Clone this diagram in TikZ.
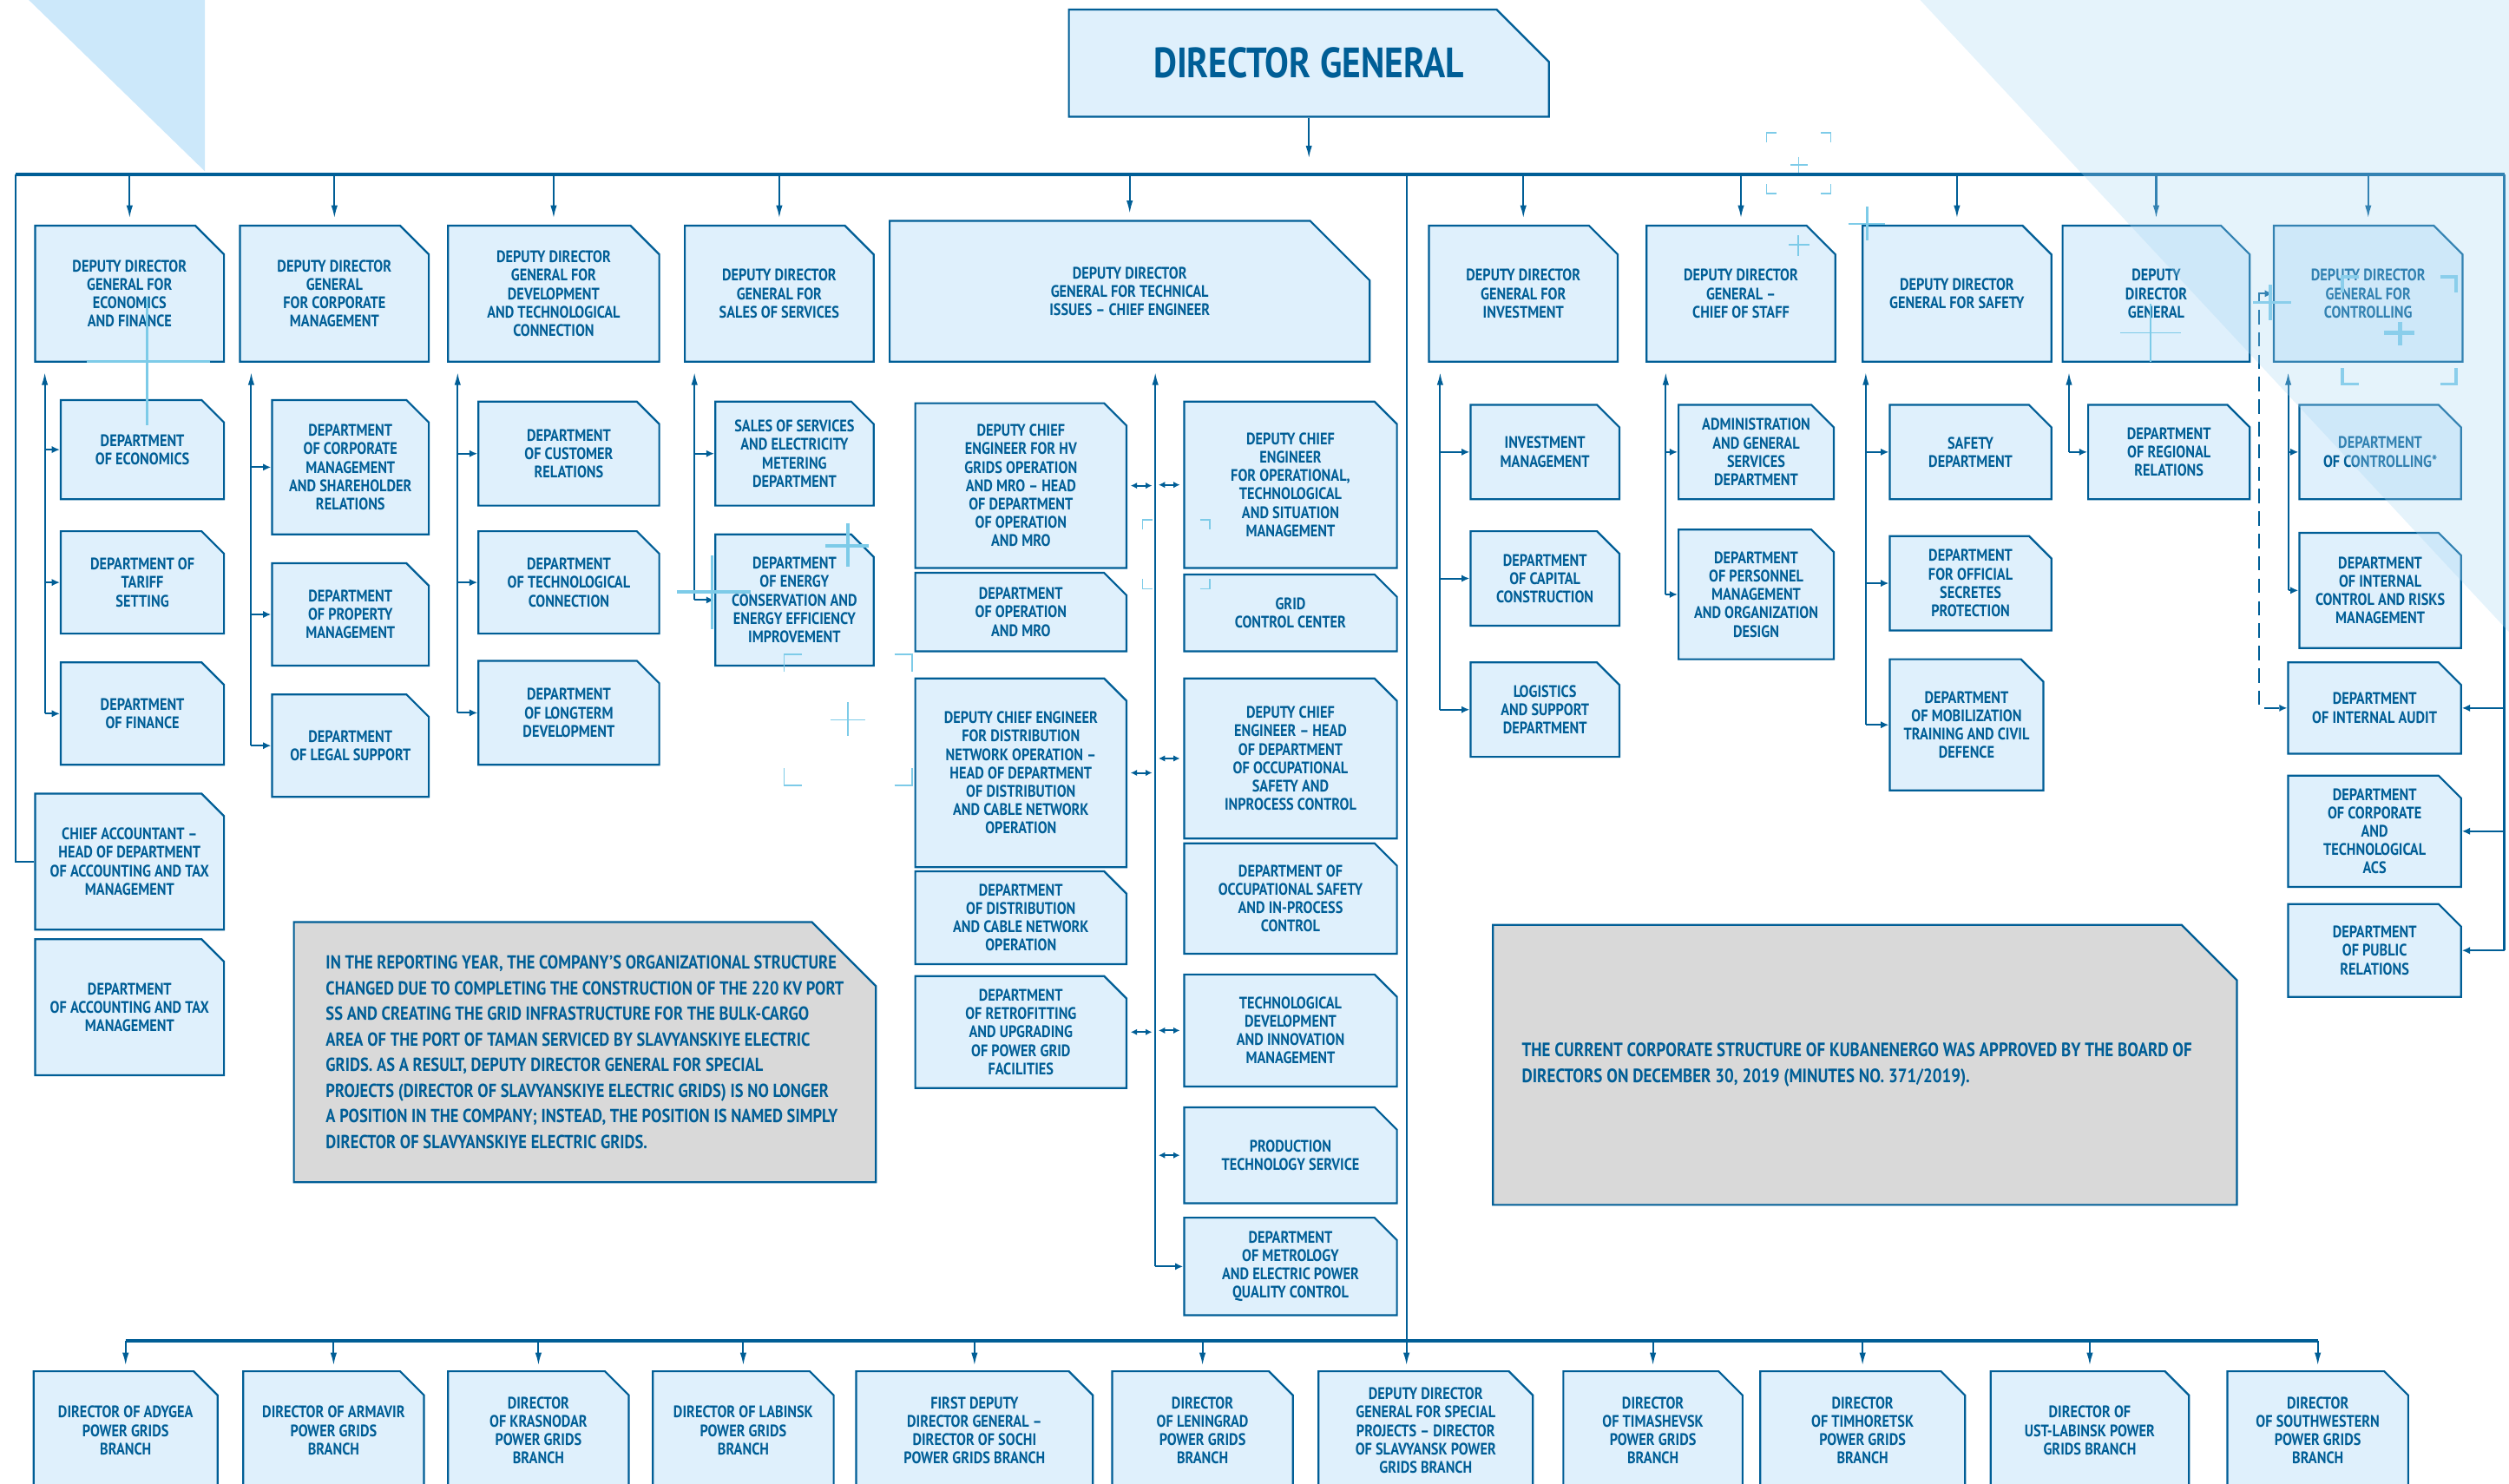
\documentclass[tikz,border=0pt]{standalone}
\usepackage{fontspec}
\newfontfamily\kbfont{PT Sans}[FakeStretch=0.85]
\usetikzlibrary{arrows.meta,
                positioning,
                shapes.misc}

\definecolor{kbblue}{RGB}{0,94,150}
\definecolor{kbfill}{RGB}{223,240,252}
\definecolor{kbgrey}{RGB}{217,217,217}
\definecolor{kbsky}{RGB}{204,232,250}
\definecolor{kbhaze}{RGB}{170,215,243}
\definecolor{kbdeco}{RGB}{125,203,232}

% corner marks of a frame: x1,y1,x2,y2,arm
\newcommand{\kbframe}[5]{%
  \draw (#1,#2+#5) -- (#1,#2) -- (#1+#5,#2);
  \draw (#3-#5,#2) -- (#3,#2) -- (#3,#2+#5);
  \draw (#1,#4-#5) -- (#1,#4) -- (#1+#5,#4);
  \draw (#3-#5,#4) -- (#3,#4) -- (#3,#4-#5);}

\begin{document}
\begin{tikzpicture}[x=1pt, y=-1pt,
    unit/.style = {chamfered rectangle, chamfered rectangle corners=north east,
                   chamfered rectangle xsep=7pt, chamfered rectangle ysep=7pt,
                   draw=kbblue, fill=kbfill, line width=1.2pt, text=kbblue,
                   align=center, inner sep=1pt,
                   font=\kbfont\bfseries\fontsize{10.4}{11.5}\selectfont},
    chamf/.style = {chamfered rectangle xsep=#1, chamfered rectangle ysep=#1},
    wh/.style 2 args = {minimum width=#1, minimum height=#2},
    wire/.style = {draw=kbblue, line width=1.1pt},
    bus/.style  = {draw=kbblue, line width=2.6pt},
    feed/.style = {wire, -{Latex[length=5pt, width=4.5pt]}},
    drop/.style = {wire, -{Latex[length=8pt, width=4pt]}, shorten >=4pt},
    rise/.style = {wire, -{Latex[length=8pt, width=4pt]}, shorten >=6pt},
    twin/.style = {wire, {Latex[length=4pt, width=4pt]}-{Latex[length=4pt, width=4pt]},
                   shorten <=2pt, shorten >=2pt}]

\useasboundingbox (0,0) rectangle (1568,927);
\clip (0,0) rectangle (1568,927);

% background corner
\fill[kbsky] (18,0) -- (128,0) -- (128,107) -- cycle;

\node[unit, chamf=22pt, wh={300pt}{67pt},
      font=\kbfont\bfseries\fontsize{26.5}{28}\selectfont] (dg) at (818,39.5) {DIRECTOR GENERAL};

% deputies
\begin{scope}[deputy/.style = {unit, chamf=9pt, minimum height=85pt}]
    \node[deputy, minimum width=118pt] (dEco)   at (81,183.5)    {DEPUTY DIRECTOR\\GENERAL FOR\\ECONOMICS\\AND FINANCE};
    \node[deputy, minimum width=118pt] (dCorp)  at (209,183.5)   {DEPUTY DIRECTOR\\GENERAL\\FOR CORPORATE\\MANAGEMENT};
    \node[deputy, minimum width=132pt] (dDev)   at (346,183.5)   {DEPUTY DIRECTOR\\GENERAL FOR\\DEVELOPMENT\\AND TECHNOLOGICAL\\CONNECTION};
    \node[deputy, minimum width=118pt] (dSales) at (487,183.5)   {DEPUTY DIRECTOR\\GENERAL FOR\\SALES OF SERVICES};
    \node[unit, chamf=21pt, wh={300pt}{88pt}] (dTech) at (706,182) {DEPUTY DIRECTOR\\GENERAL FOR TECHNICAL\\ISSUES – CHIEF ENGINEER};
    \node[deputy, minimum width=118pt] (dInv)   at (952,183.5)   {DEPUTY DIRECTOR\\GENERAL FOR\\INVESTMENT};
    \node[deputy, minimum width=118pt] (dStaff) at (1088,183.5)  {DEPUTY DIRECTOR\\GENERAL –\\CHIEF OF STAFF};
    \node[deputy, minimum width=118pt] (dSafe)  at (1223,183.5)  {DEPUTY DIRECTOR\\GENERAL FOR SAFETY};
    \node[deputy, minimum width=117pt] (dDep)   at (1347.5,183.5) {DEPUTY\\DIRECTOR\\GENERAL};
    \node[deputy, minimum width=118pt] (dCtrl)  at (1480,183.5)  {DEPUTY DIRECTOR\\GENERAL FOR\\CONTROLLING};
\end{scope}

% departments
\node[unit, wh={102pt}{62pt}] (eco)      at (89,281)    {DEPARTMENT\\OF ECONOMICS};
\node[unit, wh={102pt}{64pt}] (tariff)   at (89,364)    {DEPARTMENT OF\\TARIFF\\SETTING};
\node[unit, wh={102pt}{64pt}] (fin)      at (89,446)    {DEPARTMENT\\OF FINANCE};
\node[unit, wh={118pt}{85pt}] (chiefAcc) at (81,538.5)  {CHIEF ACCOUNTANT –\\HEAD OF DEPARTMENT\\OF ACCOUNTING AND TAX\\MANAGEMENT};
\node[unit, wh={118pt}{85pt}] (accTax)   at (81,629.5)  {DEPARTMENT\\OF ACCOUNTING AND TAX\\MANAGEMENT};

\node[unit, wh={98pt}{84pt}] (corpMgmt) at (219,292) {DEPARTMENT\\OF CORPORATE\\MANAGEMENT\\AND SHAREHOLDER\\RELATIONS};
\node[unit, wh={98pt}{64pt}] (property) at (219,384) {DEPARTMENT\\OF PROPERTY\\MANAGEMENT};
\node[unit, wh={98pt}{64pt}] (legal)    at (219,466) {DEPARTMENT\\OF LEGAL SUPPORT};

\node[unit, wh={113pt}{65pt}] (customer) at (355.5,283.5) {DEPARTMENT\\OF CUSTOMER\\RELATIONS};
\node[unit, wh={113pt}{64pt}] (techConn) at (355.5,364)   {DEPARTMENT\\OF TECHNOLOGICAL\\CONNECTION};
\node[unit, wh={113pt}{65pt}] (longterm) at (355.5,445.5) {DEPARTMENT\\OF LONGTERM\\DEVELOPMENT};

\node[unit, wh={99pt}{65pt}] (metering) at (496.5,283.5) {SALES OF SERVICES\\AND ELECTRICITY\\METERING\\DEPARTMENT};
\node[unit, wh={99pt}{82pt}] (energy)   at (496.5,375)   {DEPARTMENT\\OF ENERGY\\CONSERVATION AND\\ENERGY EFFICIENCY\\IMPROVEMENT};

% chief engineer
\node[unit, wh={132pt}{103pt}] (hvGrid)    at (638,303.5) {DEPUTY CHIEF\\ENGINEER FOR HV\\GRIDS OPERATION\\AND MRO – HEAD\\OF DEPARTMENT\\OF OPERATION\\AND MRO};
\node[unit, wh={132pt}{49pt}]  (opMro)     at (638,382.5) {DEPARTMENT\\OF OPERATION\\AND MRO};
\node[unit, wh={132pt}{118pt}] (distNet)   at (638,483)   {DEPUTY CHIEF ENGINEER\\FOR DISTRIBUTION\\NETWORK OPERATION –\\HEAD OF DEPARTMENT\\OF DISTRIBUTION\\AND CABLE NETWORK\\OPERATION};
\node[unit, wh={132pt}{49pt}]  (distCable) at (638,573.5) {DEPARTMENT\\OF DISTRIBUTION\\AND CABLE NETWORK\\OPERATION};
\node[unit, wh={132pt}{70pt}]  (retrofit)  at (638,645)   {DEPARTMENT\\OF RETROFITTING\\AND UPGRADING\\OF POWER GRID\\FACILITIES};

\node[unit, wh={133pt}{104pt}] (opSit)     at (806.5,303)   {DEPUTY CHIEF\\ENGINEER\\FOR OPERATIONAL,\\TECHNOLOGICAL\\AND SITUATION\\MANAGEMENT};
\node[unit, wh={133pt}{48pt}]  (gridCC)    at (806.5,383)   {GRID\\CONTROL CENTER};
\node[unit, wh={133pt}{100pt}] (occHead)   at (806.5,474)   {DEPUTY CHIEF\\ENGINEER – HEAD\\OF DEPARTMENT\\OF OCCUPATIONAL\\SAFETY AND\\INPROCESS CONTROL};
\node[unit, wh={133pt}{69pt}]  (occDept)   at (806.5,561.5) {DEPARTMENT OF\\OCCUPATIONAL SAFETY\\AND IN-PROCESS\\CONTROL};
\node[unit, wh={133pt}{70pt}]  (techDevt)  at (806.5,644)   {TECHNOLOGICAL\\DEVELOPMENT\\AND INNOVATION\\MANAGEMENT};
\node[unit, wh={133pt}{60pt}]  (prodTech)  at (806.5,722)   {PRODUCTION\\TECHNOLOGY SERVICE};
\node[unit, wh={133pt}{61pt}]  (metrology) at (806.5,791.5) {DEPARTMENT\\OF METROLOGY\\AND ELECTRIC POWER\\QUALITY CONTROL};

\node[unit, wh={93pt}{59pt}] (invMgmt)   at (965.5,282.5) {INVESTMENT\\MANAGEMENT};
\node[unit, wh={93pt}{59pt}] (capCon)    at (965.5,361.5) {DEPARTMENT\\OF CAPITAL\\CONSTRUCTION};
\node[unit, wh={93pt}{59pt}] (logistics) at (965.5,443.5) {LOGISTICS\\AND SUPPORT\\DEPARTMENT};

\node[unit, wh={97pt}{59pt}] (admin)     at (1097.5,282.5) {ADMINISTRATION\\AND GENERAL\\SERVICES\\DEPARTMENT};
\node[unit, wh={97pt}{81pt}] (personnel) at (1097.5,371.5) {DEPARTMENT\\OF PERSONNEL\\MANAGEMENT\\AND ORGANIZATION\\DESIGN};

\node[unit, wh={101pt}{59pt}] (safetyDept) at (1231.5,282.5) {SAFETY\\DEPARTMENT};
\node[unit, wh={101pt}{59pt}] (secrets)    at (1231.5,364.5) {DEPARTMENT\\FOR OFFICIAL\\SECRETES\\PROTECTION};
\node[unit, wh={96pt}{82pt}]  (mobil)      at (1229,453)     {DEPARTMENT\\OF MOBILIZATION\\TRAINING AND CIVIL\\DEFENCE};

\node[unit, wh={101pt}{59pt}] (regional) at (1355.5,282.5) {DEPARTMENT\\OF REGIONAL\\RELATIONS};

\node[unit, wh={101pt}{59pt}] (ctrlDept) at (1487.5,282.5) {DEPARTMENT\\OF CONTROLLING*};
\node[unit, wh={101pt}{72pt}] (intCtrl)  at (1487.5,369)   {DEPARTMENT\\OF INTERNAL\\CONTROL AND RISKS\\MANAGEMENT};
\node[unit, wh={108pt}{57pt}] (audit)    at (1484,442.5)   {DEPARTMENT\\OF INTERNAL AUDIT};
\node[unit, wh={108pt}{55pt}] (acs)      at (1484,519.5)   {DEPARTMENT\\OF CORPORATE\\AND\\TECHNOLOGICAL\\ACS};
\node[unit, wh={108pt}{58pt}] (pr)       at (1484,594)     {DEPARTMENT\\OF PUBLIC\\RELATIONS};

% notes
\begin{scope}[remark/.style = {unit, chamf=20pt, fill=kbgrey, align=left, inner xsep=0pt,
                               font=\kbfont\bfseries\fontsize{11.8}{16}\selectfont}]
    \node[remark, wh={363pt}{159pt}] (noteL) at (365.5,657.5)
        {IN THE REPORTING YEAR, THE COMPANY’S ORGANIZATIONAL STRUCTURE\\
         CHANGED DUE TO COMPLETING THE CONSTRUCTION OF THE 220 KV PORT\\
         SS AND CREATING THE GRID INFRASTRUCTURE FOR THE BULK-CARGO\\
         AREA OF THE PORT OF TAMAN SERVICED BY SLAVYANSKIYE ELECTRIC\\
         GRIDS. AS A RESULT, DEPUTY DIRECTOR GENERAL FOR SPECIAL\\
         PROJECTS (DIRECTOR OF SLAVYANSKIYE ELECTRIC GRIDS) IS NO LONGER\\
         A POSITION IN THE COMPANY; INSTEAD, THE POSITION IS NAMED SIMPLY\\
         DIRECTOR OF SLAVYANSKIYE ELECTRIC GRIDS.};
    \node[remark, wh={465pt}{175pt}, font=\kbfont\bfseries\fontsize{12.1}{16}\selectfont] (noteR) at (1165.5,665.5)
        {\hspace*{-10pt}THE CURRENT CORPORATE STRUCTURE OF KUBANENERGO WAS APPROVED BY THE BOARD OF\\
         \hspace*{-10pt}DIRECTORS ON DECEMBER 30, 2019 (MINUTES NO. 371/2019).};
\end{scope}

% branches
\begin{scope}[branch/.style = {unit, chamfered rectangle ysep=8pt, minimum height=74pt}]
    \node[branch, minimum width=115pt] (bAdygea)     at (78.5,894)  {DIRECTOR OF ADYGEA\\POWER GRIDS\\BRANCH};
    \node[branch, minimum width=113pt] (bArmavir)    at (208.5,894) {DIRECTOR OF ARMAVIR\\POWER GRIDS\\BRANCH};
    \node[branch, minimum width=113pt] (bKrasnodar)  at (336.5,894) {DIRECTOR\\OF KRASNODAR\\POWER GRIDS\\BRANCH};
    \node[branch, minimum width=113pt] (bLabinsk)    at (464.5,894) {DIRECTOR OF LABINSK\\POWER GRIDS\\BRANCH};
    \node[branch, minimum width=148pt] (bSochi)      at (609,894)   {FIRST DEPUTY\\DIRECTOR GENERAL –\\DIRECTOR OF SOCHI\\POWER GRIDS BRANCH};
    \node[branch, minimum width=113pt] (bLeningrad)  at (751.5,894) {DIRECTOR\\OF LENINGRAD\\POWER GRIDS\\BRANCH};
    \node[branch, minimum width=134pt] (bSlavyansk)  at (891,894)   {DEPUTY DIRECTOR\\GENERAL FOR SPECIAL\\PROJECTS – DIRECTOR\\OF SLAVYANSK POWER\\GRIDS BRANCH};
    \node[branch, minimum width=112pt] (bTimashevsk) at (1033,894)  {DIRECTOR\\OF TIMASHEVSK\\POWER GRIDS\\BRANCH};
    \node[branch, minimum width=128pt] (bTimhoretsk) at (1164,894)  {DIRECTOR\\OF TIMHORETSK\\POWER GRIDS\\BRANCH};
    \node[branch, minimum width=124pt] (bUstLab)     at (1306,894)  {DIRECTOR OF\\UST-LABINSK POWER\\GRIDS BRANCH};
    \node[branch, minimum width=113pt] (bSouthwest)  at (1448.5,894) {DIRECTOR\\OF SOUTHWESTERN\\POWER GRIDS\\BRANCH};
\end{scope}

% buses
\coordinate (topL) at (10,109);
\coordinate (topR) at (1565,109);
\coordinate (mid)  at (879,109);
\coordinate (botY) at (879,838);

\draw[wire] (topL) |- (chiefAcc.west);
\draw[wire] (topR) -- (topR |- pr.east);
\draw[wire] (mid) -- (botY);
\draw[bus] (topL) -- (topR);
\draw[bus] (bAdygea.north |- botY) -- (bSouthwest.north |- botY);

\draw[drop, shorten >=10pt] (dg.south) -- (dg.south |- topL);
\foreach \d in {dEco,dCorp,dDev,dSales,dTech,dInv,dStaff,dSafe,dDep,dCtrl}
    \draw[drop] (\d.north |- topL) -- (\d.north);
\foreach \b in {bAdygea,bArmavir,bKrasnodar,bLabinsk,bSochi,bLeningrad,bTimashevsk,bTimhoretsk,bUstLab,bSouthwest}
    \draw[drop, shorten >=3pt] (\b.north |- botY) -- (\b.north);
\draw[drop, shorten >=3pt] (botY) -- (botY |- bSlavyansk.north);

% spines
\coordinate (s1)  at (28,0);
\coordinate (s2)  at (157,0);
\coordinate (s3)  at (286,0);
\coordinate (s4)  at (434,0);
\coordinate (s5)  at (722,0);
\coordinate (s6)  at (900,0);
\coordinate (s7)  at (1041,0);
\coordinate (s8)  at (1166,0);
\coordinate (s9)  at (1293,0);
\coordinate (s10) at (1430,0);
\coordinate (sd)  at (1412,0);

\draw[rise] (s1 |- fin.west) -- (s1 |- dEco.south);
\foreach \c in {eco,tariff,fin} \draw[feed] (s1 |- \c.west) -- (\c.west);
\draw[rise] (s2 |- legal.west) -- (s2 |- dCorp.south);
\foreach \c in {corpMgmt,property,legal} \draw[feed] (s2 |- \c.west) -- (\c.west);
\draw[rise] (s3 |- longterm.west) -- (s3 |- dDev.south);
\foreach \c in {customer,techConn,longterm} \draw[feed] (s3 |- \c.west) -- (\c.west);
\draw[rise] (s4 |- energy.west) -- (s4 |- dSales.south);
\foreach \c in {metering,energy} \draw[feed] (s4 |- \c.west) -- (\c.west);

\draw[rise] (s5 |- metrology.west) -- (s5 |- dTech.south);
\draw[feed] (s5 |- metrology.west) -- (metrology.west);
\foreach \c in {hvGrid,distNet,retrofit} \draw[twin] (\c.east) -- (\c.east -| s5);
\foreach \c in {opSit,occHead,techDevt,prodTech} \draw[twin] (\c.west -| s5) -- (\c.west);

\draw[rise] (s6 |- logistics.west) -- (s6 |- dInv.south);
\foreach \c in {invMgmt,capCon,logistics} \draw[feed] (s6 |- \c.west) -- (\c.west);
\draw[rise] (s7 |- personnel.west) -- (s7 |- dStaff.south);
\foreach \c in {admin,personnel} \draw[feed] (s7 |- \c.west) -- (\c.west);
\draw[rise] (s8 |- mobil.west) -- (s8 |- dSafe.south);
\foreach \c in {safetyDept,secrets,mobil} \draw[feed] (s8 |- \c.west) -- (\c.west);
\draw[rise] (s9 |- regional.west) -- (s9 |- dDep.south);
\draw[feed] (s9 |- regional.west) -- (regional.west);
\draw[rise] (s10 |- intCtrl.west) -- (s10 |- dCtrl.south);
\foreach \c in {ctrlDept,intCtrl} \draw[feed] (s10 |- \c.west) -- (\c.west);

\draw[wire, dash pattern=on 9pt off 5pt, {Latex[length=5pt, width=4.5pt]}-{Latex[length=5pt, width=4.5pt]}]
    (dCtrl.west) -- (sd |- dCtrl.west) -- (sd |- audit.west) -- (audit.west);
\foreach \c in {audit,acs,pr} \draw[feed] (topR |- \c.east) -- (\c.east);

% decoration marks
\begin{scope}[kbdeco]
    \draw[line width=1.4pt] (92,186) -- (92,266) (54,226) -- (131,226);
    \draw[line width=2pt] (445,347) -- (445,393) (423,370) -- (469,370);
    \draw[line width=2pt] (530,327) -- (530,354) (516,341) -- (543,341);
    \draw[line width=0.8pt] (530,439) -- (530,460) (519,450) -- (541,450);
    \draw[line width=1pt] (1124,147) -- (1124,160) (1118,153) -- (1131,153);
    \draw[line width=0.8pt] (1124,98) -- (1124,108) (1119,103) -- (1130,103);
    \draw[line width=1.4pt] (1167,129) -- (1167,150) (1155,140) -- (1178,140);
    \draw[line width=1pt] (1344,190) -- (1344,226) (1325,208) -- (1363,208);
    \draw[line width=2pt] (1419,178) -- (1419,200) (1408,189) -- (1432,189);
    \draw[line width=2.5pt] (1500,201) -- (1500,216) (1490,208) -- (1509,208);
    \begin{scope}[line width=1pt]
        \kbframe{490}{409}{570}{491}{11}
        \kbframe{714}{325}{756}{368}{6}
    \end{scope}
    \begin{scope}[line width=0.8pt]
        \kbframe{1104}{83}{1144}{121}{6}
    \end{scope}
    \begin{scope}[line width=2pt]
        \kbframe{1464}{173}{1535}{240}{10}
    \end{scope}
\end{scope}

% haze in the top right corner
\fill[kbhaze, opacity=0.3] (1200,0) -- (1568,0) -- (1568,395) -- cycle;

\end{tikzpicture}
\end{document}
